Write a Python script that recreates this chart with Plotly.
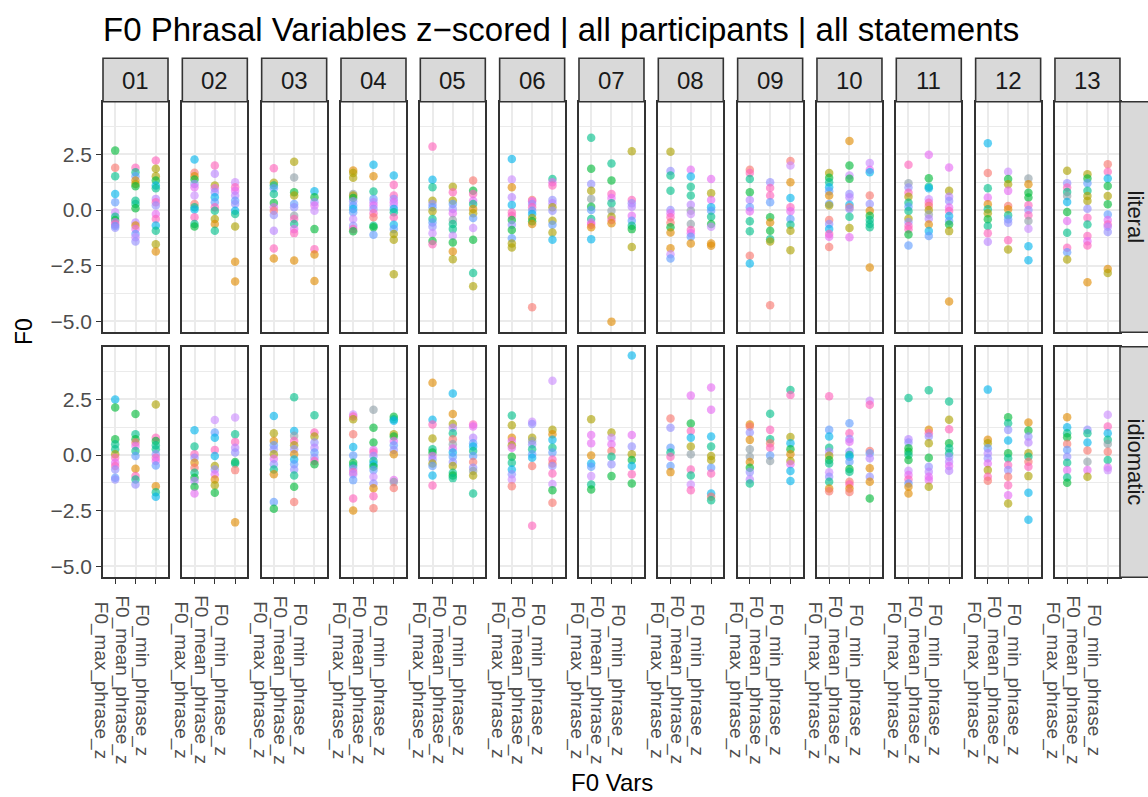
import plotly.graph_objects as go

# ---------------------------------------------------------------------------
# Data: z-scored F0 phrasal measures per participant (facet columns) and
# condition (facet rows).  Each facet holds three columns of points
# (max / mean / min), each point tagged with its statement colour group.
# ---------------------------------------------------------------------------
VARS = ["F0_max_phrase_z", "F0_mean_phrase_z", "F0_min_phrase_z"]
PARTICIPANTS = ["01", "02", "03", "04", "05", "06", "07",
                "08", "09", "10", "11", "12", "13"]
CONDITIONS = ["literal", "idiomatic"]
Y_TICKS = [-5.0, -2.5, 0.0, 2.5]
Y_TICK_TEXT = ["\u22125.0", "\u22122.5", "0.0", "2.5"]

# statement group -> colour
STATEMENT_COLOURS = {
    "r": "#F8766D", "o": "#E18A00", "y": "#ADA200", "g": "#00BA38",
    "t": "#00C08B", "c": "#00B5EE", "b": "#619CFF", "v": "#9590FF",
    "u": "#B983FF", "l": "#CB8CFF", "m": "#E76BF3", "p": "#FF62BC",
    "a": "#8FA0A8",
}

lit_01 = [
    [(2.67, "g"), (1.9, "r"), (1.52, "t"), (0.72, "c"), (0.35, "b"), (-0.1, "l"),
     (-0.3, "t"), (-0.45, "g"), (-0.55, "m"), (-0.65, "p"), (-0.72, "b"), (-0.8, "v")],
    [(1.9, "p"), (1.7, "t"), (1.52, "b"), (1.33, "o"), (1.17, "y"), (1.07, "g"),
     (0.42, "t"), (0.27, "t"), (0.08, "g"), (-0.56, "u"), (-0.7, "o"), (-0.86, "m"),
     (-1.08, "b"), (-1.23, "l"), (-1.42, "v")],
    [(2.23, "p"), (1.85, "y"), (1.52, "y"), (1.33, "g"), (1.1, "c"), (0.98, "t"),
     (0.5, "u"), (0.35, "p"), (0.2, "v"), (-0.18, "m"), (-0.4, "p"), (-0.7, "c"),
     (-0.93, "t"), (-1.54, "y"), (-1.87, "o")],
]
idi_01 = [
    [(2.5, "c"), (2.14, "g"), (0.71, "g"), (0.48, "t"), (0.26, "t"), (0.03, "y"),
     (-0.12, "p"), (-0.35, "m"), (-0.5, "p"), (-0.65, "v"), (-1.02, "b"), (-1.1, "v")],
    [(1.84, "g"), (0.93, "t"), (0.71, "g"), (0.56, "r"), (0.41, "m"), (0.18, "t"),
     (-0.05, "b"), (-0.62, "o"), (-0.95, "p"), (-1.1, "t"), (-1.33, "v")],
    [(2.27, "y"), (0.78, "p"), (0.63, "g"), (0.44, "t"), (0.26, "t"), (0.03, "v"),
     (-0.12, "p"), (-0.27, "m"), (-0.47, "b"), (-1.4, "o"), (-1.67, "t"), (-1.88, "c")],
]
lit_02 = [
    [(2.27, "c"), (1.67, "r"), (1.52, "o"), (1.37, "g"), (1.17, "v"), (1.02, "m"),
     (0.65, "l"), (0.27, "r"), (0.12, "t"), (0.02, "c"), (-0.33, "p"), (-0.63, "t"),
     (-0.74, "g")],
    [(2.0, "p"), (1.63, "u"), (1.1, "y"), (0.98, "m"), (0.8, "v"), (0.57, "c"),
     (0.35, "b"), (0.12, "p"), (-0.03, "t"), (-0.4, "y"), (-0.63, "o"), (-0.93, "t")],
    [(1.25, "l"), (1.02, "p"), (0.87, "m"), (0.65, "u"), (0.42, "b"), (0.27, "v"),
     (-0.03, "c"), (-0.18, "t"), (-0.74, "y"), (-2.33, "o"), (-3.22, "o")],
]
idi_02 = [
    [(1.11, "c"), (0.38, "t"), (0.03, "p"), (-0.12, "v"), (-0.35, "o"), (-0.57, "r"),
     (-0.8, "t"), (-1.02, "g"), (-1.17, "u"), (-1.43, "g"), (-1.73, "m")],
    [(1.57, "l"), (1.01, "b"), (0.78, "c"), (0.23, "p"), (-0.05, "c"), (-0.5, "y"),
     (-0.65, "v"), (-0.87, "m"), (-1.1, "o"), (-1.36, "y"), (-1.7, "g")],
    [(1.69, "l"), (0.93, "t"), (0.59, "p"), (0.33, "u"), (0.11, "v"), (-0.32, "g"),
     (-0.38, "t"), (-0.68, "r"), (-3.03, "o")],
]
lit_03 = [
    [(1.88, "p"), (1.22, "y"), (1.1, "t"), (0.98, "b"), (0.72, "t"), (0.32, "g"),
     (0.12, "m"), (-0.03, "r"), (-0.23, "v"), (-0.93, "u"), (-1.73, "p"), (-2.18, "o")],
    [(2.17, "y"), (1.46, "a"), (0.8, "g"), (0.65, "y"), (0.27, "b"), (0.12, "v"),
     (-0.26, "a"), (-0.4, "p"), (-0.63, "t"), (-0.86, "m"), (-1.04, "p"), (-2.27, "o")],
    [(0.84, "c"), (0.57, "g"), (0.35, "v"), (0.2, "m"), (-0.03, "l"), (-0.86, "g"),
     (-1.76, "p"), (-2.0, "o"), (-3.19, "o")],
]
idi_03 = [
    [(1.75, "c"), (0.98, "y"), (0.63, "o"), (0.44, "b"), (0.26, "v"), (0.03, "y"),
     (-0.17, "m"), (-0.42, "v"), (-0.65, "t"), (-0.87, "o"), (-2.11, "b"), (-2.42, "g")],
    [(2.6, "t"), (1.08, "c"), (0.86, "a"), (0.63, "p"), (0.44, "y"), (0.26, "v"),
     (0.03, "o"), (-0.2, "c"), (-0.42, "b"), (-0.65, "v"), (-0.92, "t"), (-1.43, "g"),
     (-2.11, "r")],
    [(1.79, "t"), (1.01, "p"), (0.83, "y"), (0.56, "v"), (0.33, "u"), (0.11, "b"),
     (-0.12, "v"), (-0.27, "p"), (-0.42, "g")],
]
lit_04 = [
    [(1.78, "o"), (1.66, "y"), (1.45, "y"), (0.72, "a"), (0.65, "y"), (0.54, "g"),
     (0.39, "v"), (0.2, "b"), (0.05, "c"), (-0.1, "b"), (-0.41, "l"), (-0.71, "v"),
     (-0.86, "p"), (-0.96, "g")],
    [(2.03, "c"), (1.52, "o"), (0.83, "t"), (0.5, "b"), (0.35, "u"), (0.2, "m"),
     (0.05, "v"), (-0.15, "p"), (-0.33, "r"), (-0.71, "t"), (-0.78, "g"), (-1.11, "b")],
    [(1.55, "c"), (1.13, "p"), (0.65, "p"), (0.5, "v"), (0.35, "m"), (0.2, "l"),
     (0.05, "c"), (-0.1, "t"), (-0.33, "p"), (-0.66, "c"), (-0.86, "b"), (-1.08, "y"),
     (-1.34, "y"), (-2.89, "y")],
]
idi_04 = [
    [(1.82, "l"), (1.73, "p"), (1.61, "y"), (0.93, "r"), (0.36, "c"), (-0.02, "b"),
     (-0.35, "g"), (-0.47, "t"), (-0.62, "v"), (-0.77, "p"), (-0.87, "u"), (-1.13, "b"),
     (-1.96, "p"), (-2.5, "o")],
    [(2.03, "a"), (1.23, "g"), (0.56, "g"), (0.23, "m"), (0.11, "p"), (-0.05, "v"),
     (-0.27, "t"), (-0.42, "c"), (-0.53, "g"), (-0.68, "b"), (-0.98, "l"), (-1.28, "v"),
     (-1.49, "o"), (-1.85, "p"), (-2.39, "r")],
    [(1.72, "g"), (1.61, "t"), (1.54, "c"), (0.93, "y"), (0.83, "g"), (0.63, "m"),
     (0.44, "b"), (0.23, "v"), (0.03, "o"), (-1.13, "m"), (-1.22, "a"), (-1.48, "r")],
]
lit_05 = [
    [(2.85, "p"), (1.36, "c"), (1.02, "t"), (0.42, "y"), (0.27, "v"), (0.12, "b"),
     (-0.06, "y"), (-0.41, "t"), (-0.56, "b"), (-0.75, "v"), (-1.05, "l"), (-1.39, "g"),
     (-1.54, "p")],
    [(1.05, "y"), (0.8, "p"), (0.42, "y"), (0.27, "b"), (0.05, "v"), (-0.15, "m"),
     (-0.45, "a"), (-0.63, "t"), (-0.86, "t"), (-1.16, "l"), (-1.46, "g"), (-1.87, "o"),
     (-2.21, "y")],
    [(1.33, "r"), (0.87, "g"), (0.72, "p"), (0.42, "m"), (0.27, "t"), (0.05, "o"),
     (-0.15, "y"), (-0.36, "b"), (-0.81, "l"), (-1.34, "g"), (-2.83, "t"), (-3.43, "y")],
]
idi_05 = [
    [(3.25, "o"), (1.58, "c"), (1.37, "p"), (0.74, "y"), (0.26, "t"), (0.11, "g"),
     (-0.05, "m"), (-0.2, "v"), (-0.38, "y"), (-0.5, "b"), (-0.92, "c"), (-1.37, "p")],
    [(2.77, "c"), (1.84, "o"), (1.39, "y"), (1.23, "u"), (0.98, "t"), (0.71, "r"),
     (0.48, "a"), (0.29, "m"), (0.11, "c"), (-0.08, "b"), (-0.32, "v"), (-0.5, "y"),
     (-0.8, "t"), (-0.92, "g"), (-1.04, "t")],
    [(1.37, "p"), (1.28, "m"), (0.78, "u"), (0.53, "b"), (0.38, "c"), (0.18, "t"),
     (-0.05, "b"), (-0.32, "r"), (-0.57, "v"), (-0.72, "a"), (-0.92, "y"), (-1.73, "t")],
]
lit_06 = [
    [(2.29, "c"), (1.37, "l"), (1.02, "o"), (0.57, "u"), (0.23, "c"), (-0.11, "p"),
     (-0.26, "p"), (-0.45, "g"), (-0.66, "v"), (-0.9, "g"), (-1.27, "b"), (-1.51, "y"),
     (-1.69, "y")],
    [(0.45, "r"), (0.39, "m"), (0.27, "v"), (0.12, "p"), (-0.03, "b"), (-0.18, "c"),
     (-0.36, "y"), (-0.51, "g"), (-0.63, "o"), (-4.37, "r")],
    [(1.39, "t"), (1.25, "m"), (1.1, "p"), (0.45, "v"), (0.3, "u"), (0.12, "y"),
     (-0.03, "v"), (-0.48, "y"), (-0.66, "b"), (-1.01, "y"), (-1.34, "c")],
]
idi_06 = [
    [(1.78, "t"), (1.34, "y"), (0.78, "o"), (0.63, "m"), (0.44, "y"), (0.33, "m"),
     (-0.08, "g"), (-0.35, "t"), (-0.65, "c"), (-0.87, "v"), (-1.1, "l"), (-1.4, "r")],
    [(1.49, "l"), (1.39, "v"), (0.78, "y"), (0.63, "a"), (0.48, "v"), (0.26, "t"),
     (0.03, "b"), (-0.12, "c"), (-0.5, "r"), (-3.18, "p")],
    [(3.34, "l"), (1.13, "y"), (0.93, "o"), (0.68, "c"), (0.33, "t"), (0.11, "b"),
     (-0.2, "p"), (-0.38, "r"), (-0.5, "v"), (-0.83, "p"), (-1.3, "l"), (-1.58, "g"),
     (-2.15, "r")],
]
lit_07 = [
    [(3.25, "t"), (1.85, "g"), (1.17, "v"), (0.87, "y"), (0.5, "a"), (0.15, "g"),
     (0.0, "b"), (-0.41, "t"), (-0.56, "m"), (-0.66, "p"), (-0.78, "o"), (-1.31, "c")],
    [(2.09, "t"), (1.33, "g"), (0.72, "p"), (0.54, "m"), (0.3, "t"), (-0.03, "a"),
     (-0.3, "y"), (-0.45, "p"), (-0.6, "o"), (-5.02, "o")],
    [(2.64, "y"), (0.45, "p"), (0.3, "v"), (0.15, "u"), (-0.26, "m"), (-0.48, "b"),
     (-0.71, "t"), (-0.86, "g"), (-1.66, "y")],
]
idi_07 = [
    [(1.61, "y"), (0.9, "m"), (0.53, "m"), (-0.02, "o"), (-0.38, "c"), (-0.53, "b"),
     (-0.95, "l"), (-1.33, "t"), (-1.55, "g")],
    [(1.01, "y"), (0.78, "l"), (0.48, "m"), (0.18, "r"), (-0.08, "t"), (-0.42, "v"),
     (-0.95, "g")],
    [(4.47, "c"), (0.9, "m"), (0.38, "v"), (0.03, "y"), (-0.23, "g"), (-0.5, "c"),
     (-0.87, "p"), (-1.28, "g")],
]
lit_08 = [
    [(2.62, "y"), (1.75, "v"), (1.55, "t"), (0.87, "t"), (0.0, "v"), (-0.15, "m"),
     (-0.33, "p"), (-0.56, "r"), (-0.78, "g"), (-1.01, "o"), (-1.72, "o"), (-1.99, "l"),
     (-2.18, "b")],
    [(1.81, "m"), (1.51, "c"), (1.05, "t"), (0.65, "t"), (0.24, "u"), (-0.03, "a"),
     (-0.18, "l"), (-0.63, "a"), (-0.9, "p"), (-1.05, "m"), (-1.2, "b"), (-1.51, "o")],
    [(1.39, "m"), (0.75, "y"), (0.45, "m"), (0.12, "c"), (-0.03, "b"), (-0.3, "t"),
     (-0.63, "g"), (-0.75, "l"), (-1.51, "o"), (-1.61, "o")],
]
idi_08 = [
    [(1.64, "r"), (1.23, "v"), (0.33, "b"), (0.11, "t"), (-0.08, "p"), (-0.5, "b"),
     (-0.77, "o")],
    [(2.67, "m"), (1.42, "g"), (1.08, "p"), (0.78, "c"), (0.38, "y"), (0.03, "a"),
     (-0.65, "p"), (-0.92, "t"), (-1.33, "l"), (-1.58, "p")],
    [(3.04, "m"), (2.03, "m"), (0.83, "c"), (0.38, "t"), (-0.05, "y"), (-0.23, "y"),
     (-0.57, "b"), (-0.83, "p"), (-1.73, "c"), (-1.88, "r"), (-2.03, "t")],
]
lit_09 = [
    [(1.81, "r"), (1.66, "p"), (1.39, "t"), (0.8, "g"), (0.45, "u"), (0.12, "b"),
     (-0.06, "m"), (-0.51, "t"), (-0.96, "t"), (-2.06, "r"), (-2.41, "c")],
    [(1.25, "v"), (0.99, "p"), (0.65, "p"), (0.35, "b"), (-0.33, "g"), (-0.56, "o"),
     (-0.93, "g"), (-1.31, "t"), (-1.42, "y"), (-4.28, "r")],
    [(2.2, "r"), (2.0, "l"), (1.25, "o"), (0.54, "c"), (0.12, "p"), (-0.06, "m"),
     (-0.41, "b"), (-0.66, "t"), (-0.93, "y"), (-1.81, "y")],
]
idi_09 = [
    [(1.37, "o"), (1.28, "r"), (1.01, "v"), (0.68, "o"), (0.26, "a"), (-0.08, "a"),
     (-0.32, "o"), (-0.57, "g"), (-0.77, "v"), (-1.1, "u"), (-1.28, "t")],
    [(1.85, "t"), (1.13, "p"), (0.71, "t"), (0.53, "r"), (0.33, "p"), (-0.02, "b"),
     (-0.27, "a")],
    [(2.92, "t"), (2.7, "p"), (0.81, "y"), (0.53, "c"), (0.26, "g"), (0.03, "o"),
     (-0.27, "y"), (-0.42, "m"), (-0.72, "c"), (-1.17, "c")],
]
lit_10 = [
    [(1.66, "y"), (1.45, "g"), (1.25, "t"), (1.02, "c"), (0.84, "b"), (0.65, "o"),
     (0.27, "b"), (0.2, "y"), (-0.45, "r"), (-0.63, "v"), (-0.86, "c"), (-1.08, "p"),
     (-1.2, "m"), (-1.66, "r")],
    [(3.1, "o"), (2.0, "g"), (1.55, "l"), (1.4, "g"), (0.72, "v"), (0.57, "u"),
     (0.24, "c"), (0.12, "r"), (0.05, "v"), (-0.3, "t"), (-0.81, "y"), (-1.23, "m")],
    [(2.11, "l"), (1.81, "m"), (1.7, "c"), (0.65, "r"), (0.27, "v"), (-0.03, "o"),
     (-0.26, "g"), (-0.45, "t"), (-0.63, "t"), (-0.78, "t"), (-2.59, "o")],
]
idi_10 = [
    [(2.64, "p"), (1.13, "b"), (0.83, "c"), (0.33, "t"), (0.15, "u"), (-0.03, "y"),
     (-0.23, "g"), (-0.38, "t"), (-0.78, "l"), (-0.98, "v"), (-1.2, "t"), (-1.51, "o"),
     (-1.63, "r")],
    [(1.43, "b"), (0.98, "p"), (0.72, "v"), (0.6, "m"), (0.15, "v"), (0.0, "t"),
     (-0.08, "c"), (-0.3, "b"), (-0.63, "g"), (-0.75, "t"), (-1.2, "r"), (-1.33, "p"),
     (-1.51, "o"), (-1.66, "r")],
    [(2.44, "l"), (2.26, "p"), (0.18, "r"), (0.08, "b"), (-0.15, "u"), (-0.6, "o"),
     (-0.98, "v"), (-1.2, "o"), (-1.96, "g")],
]
lit_11 = [
    [(2.03, "p"), (1.2, "a"), (1.01, "v"), (0.78, "p"), (0.6, "y"), (0.33, "t"),
     (0.15, "b"), (-0.05, "t"), (-0.39, "y"), (-0.54, "v"), (-0.72, "p"), (-0.87, "p"),
     (-1.1, "g"), (-1.6, "b")],
    [(2.48, "m"), (1.43, "g"), (1.05, "t"), (0.98, "c"), (0.48, "l"), (0.33, "p"),
     (0.18, "r"), (0.0, "y"), (-0.2, "a"), (-0.39, "u"), (-0.65, "o"), (-0.95, "c"),
     (-1.17, "b")],
    [(1.91, "m"), (0.86, "y"), (0.6, "u"), (0.41, "v"), (0.11, "m"), (-0.05, "p"),
     (-0.27, "c"), (-0.5, "b"), (-0.65, "g"), (-0.95, "y"), (-4.11, "o")],
]
idi_11 = [
    [(2.56, "t"), (0.71, "u"), (0.56, "v"), (0.3, "g"), (0.15, "g"), (0.0, "t"),
     (-0.23, "g"), (-0.71, "l"), (-0.9, "m"), (-1.1, "p"), (-1.28, "b"), (-1.43, "o"),
     (-1.73, "o")],
    [(2.91, "t"), (1.13, "o"), (0.98, "p"), (0.83, "v"), (0.53, "y"), (-0.12, "g"),
     (-0.53, "v"), (-0.75, "u"), (-0.98, "m"), (-1.13, "m"), (-1.43, "y")],
    [(2.41, "t"), (1.58, "y"), (1.16, "p"), (0.53, "g"), (0.3, "t"), (0.08, "t"),
     (-0.08, "v"), (-0.3, "u"), (-0.5, "m"), (-0.71, "u")],
]
lit_12 = [
    [(3.0, "c"), (1.66, "r"), (0.98, "t"), (0.56, "m"), (0.26, "o"), (0.03, "t"),
     (-0.15, "y"), (-0.42, "g"), (-0.72, "t"), (-1.05, "p"), (-1.43, "u")],
    [(1.72, "l"), (1.39, "g"), (1.16, "y"), (0.86, "m"), (0.18, "r"), (0.03, "o"),
     (-0.24, "t"), (-0.42, "b"), (-0.57, "v"), (-1.36, "p"), (-1.78, "y")],
    [(1.42, "a"), (1.16, "o"), (0.78, "g"), (0.56, "g"), (0.21, "p"), (0.0, "v"),
     (-0.24, "p"), (-0.5, "a"), (-0.84, "l"), (-1.63, "c"), (-2.26, "c")],
]
idi_12 = [
    [(2.94, "c"), (0.68, "o"), (0.53, "y"), (0.3, "b"), (0.08, "u"), (-0.15, "v"),
     (-0.38, "m"), (-0.68, "y"), (-0.98, "p"), (-1.16, "r")],
    [(1.7, "g"), (1.43, "t"), (1.13, "v"), (0.65, "c"), (0.08, "g"), (-0.15, "t"),
     (-0.45, "p"), (-0.68, "v"), (-0.98, "r"), (-1.36, "p"), (-1.81, "m"), (-2.18, "y")],
    [(1.46, "o"), (1.1, "g"), (0.83, "v"), (0.56, "u"), (0.08, "y"), (-0.08, "t"),
     (-0.3, "r"), (-0.53, "p"), (-0.95, "y"), (-1.7, "c"), (-2.91, "c")],
]
lit_13 = [
    [(1.76, "y"), (1.2, "v"), (1.01, "p"), (0.81, "t"), (0.63, "a"), (0.36, "c"),
     (-0.09, "g"), (-0.5, "m"), (-1.02, "t"), (-1.7, "p"), (-1.9, "b"), (-2.23, "y")],
    [(1.61, "y"), (1.42, "g"), (1.2, "b"), (0.86, "t"), (0.63, "y"), (0.41, "y"),
     (0.06, "v"), (-0.35, "p"), (-0.65, "t"), (-1.17, "p"), (-1.4, "m"), (-1.6, "p"),
     (-3.25, "o")],
    [(2.06, "r"), (1.72, "p"), (1.42, "c"), (1.08, "g"), (0.63, "y"), (0.26, "g"),
     (-0.2, "b"), (-0.45, "m"), (-0.65, "p"), (-0.75, "u"), (-0.99, "v"), (-2.65, "o"),
     (-2.83, "y")],
]
idi_13 = [
    [(1.7, "o"), (1.25, "c"), (0.98, "t"), (0.8, "g"), (0.5, "r"), (0.23, "b"),
     (-0.08, "v"), (-0.35, "t"), (-0.68, "m"), (-1.01, "t"), (-1.25, "g")],
    [(1.13, "v"), (0.98, "t"), (0.56, "c"), (0.2, "r"), (-0.3, "a"), (-0.68, "m"),
     (-0.98, "y")],
    [(1.81, "l"), (1.28, "p"), (0.98, "c"), (0.68, "t"), (0.5, "a"), (0.15, "r"),
     (-0.23, "t"), (-0.56, "m"), (-0.68, "l")],
]

LITERAL = [lit_01, lit_02, lit_03, lit_04, lit_05, lit_06, lit_07,
           lit_08, lit_09, lit_10, lit_11, lit_12, lit_13]
IDIOMATIC = [idi_01, idi_02, idi_03, idi_04, idi_05, idi_06, idi_07,
             idi_08, idi_09, idi_10, idi_11, idi_12, idi_13]
ROWS = [LITERAL, IDIOMATIC]

# ---------------------------------------------------------------------------
# Layout (pixel geometry of the facet grid)
# ---------------------------------------------------------------------------
W, H = 1148, 797
PANEL_LEFT0 = 103.0
PANEL_STEP = 79.33
PANEL_W = 65.0
ROW_TOP = [101.7, 346.7]
ROW_H = 230.6
STRIP_TOP = 58.3
RIGHT_STRIP_X = (1120.0, 1166.0)
Y_RANGE = [-5.50, 4.87]

FONT = "Liberation Sans, Arial, sans-serif"
BORDER = "#333333"
GRID = "#EBEBEB"
STRIP_FILL = "#D9D9D9"


def fx(px):
    return px / W


def fy(py):
    return 1.0 - py / H


fig = go.Figure()
layout = dict(
    width=W, height=H,
    margin=dict(l=0, r=0, t=0, b=0),
    paper_bgcolor="white", plot_bgcolor="white",
    showlegend=False,
    font=dict(family=FONT, color="#4D4D4D"),
)
shapes = []
annotations = []

for r, cond_rows in enumerate(ROWS):
    top = ROW_TOP[r]
    for c, panel in enumerate(cond_rows):
        k = r * len(PARTICIPANTS) + c + 1
        xa = "x" if k == 1 else f"x{k}"
        ya = "y" if k == 1 else f"y{k}"
        left = PANEL_LEFT0 + c * PANEL_STEP

        xs, ys, cols = [], [], []
        for j, column in enumerate(panel):
            for val, grp in column:
                xs.append(VARS[j])
                ys.append(val)
                cols.append(STATEMENT_COLOURS[grp])
        fig.add_trace(go.Scatter(
            x=xs, y=ys, mode="markers", xaxis=xa, yaxis=ya,
            marker=dict(size=8.5, color=cols, opacity=0.62, line=dict(width=0)),
            hoverinfo="skip", showlegend=False,
        ))

        layout["xaxis" if k == 1 else f"xaxis{k}"] = dict(
            domain=[fx(left), fx(left + PANEL_W)],
            anchor=ya,
            type="category", categoryorder="array", categoryarray=VARS,
            range=[-0.6, 2.6],
            showgrid=True, gridcolor=GRID, gridwidth=1.8,
            zeroline=False,
            showline=True, mirror=True, linecolor=BORDER, linewidth=1.6,
            showticklabels=False,
            ticks="outside" if r == 1 else "", ticklen=5,
            tickcolor=BORDER, tickwidth=1.3,
        )
        layout["yaxis" if k == 1 else f"yaxis{k}"] = dict(
            domain=[fy(top + ROW_H), fy(top)],
            anchor=xa,
            range=Y_RANGE,
            tickmode="array", tickvals=Y_TICKS, ticktext=Y_TICK_TEXT,
            showgrid=True, gridcolor=GRID, gridwidth=1.8,
            minor=dict(tickvals=[-3.75, -1.25, 1.25, 3.75], showgrid=True,
                       gridcolor=GRID, gridwidth=1.0, ticks=""),
            zeroline=False,
            showline=True, mirror=True, linecolor=BORDER, linewidth=1.6,
            showticklabels=(c == 0),
            ticks="outside" if c == 0 else "", ticklen=5,
            tickcolor=BORDER, tickwidth=1.3,
            tickfont=dict(size=21, color="#4D4D4D", family=FONT),
        )

        # rotated variable labels under the bottom row
        if r == 1:
            for j, name in enumerate(VARS):
                annotations.append(dict(
                    text=name, xref=xa, yref="paper", x=j, y=fy(680),
                    xanchor="right", yanchor="middle", textangle=90,
                    xshift=-1, showarrow=False,
                    font=dict(size=19, color="#4D4D4D", family=FONT),
                ))

# facet strips along the top
for c, pid in enumerate(PARTICIPANTS):
    left = PANEL_LEFT0 + c * PANEL_STEP
    shapes.append(dict(
        type="rect", xref="paper", yref="paper", layer="above",
        x0=fx(left), x1=fx(left + PANEL_W), y0=fy(ROW_TOP[0]), y1=fy(STRIP_TOP),
        fillcolor=STRIP_FILL, line=dict(color=BORDER, width=1.6),
    ))
    annotations.append(dict(
        text=pid, xref="paper", yref="paper",
        x=fx(left + PANEL_W / 2), y=fy((STRIP_TOP + ROW_TOP[0]) / 2),
        xanchor="center", yanchor="middle", showarrow=False,
        font=dict(size=24, color="#1A1A1A", family=FONT),
    ))

# facet strips on the right
for r, cond in enumerate(CONDITIONS):
    top = ROW_TOP[r]
    shapes.append(dict(
        type="rect", xref="paper", yref="paper", layer="above",
        x0=fx(RIGHT_STRIP_X[0]), x1=fx(RIGHT_STRIP_X[1]),
        y0=fy(top + ROW_H), y1=fy(top),
        fillcolor=STRIP_FILL, line=dict(color=BORDER, width=1.6),
    ))
    annotations.append(dict(
        text=cond, xref="paper", yref="paper",
        x=fx(1135.5), y=fy(top + ROW_H / 2),
        xanchor="center", yanchor="middle", textangle=90, showarrow=False,
        font=dict(size=22, color="#1A1A1A", family=FONT),
    ))

# titles
annotations.append(dict(
    text="F0 Phrasal Variables z\u2212scored | all participants | all statements",
    xref="paper", yref="paper", x=fx(101), y=fy(29),
    xanchor="left", yanchor="middle", showarrow=False,
    font=dict(size=33, color="black", family=FONT),
))
annotations.append(dict(
    text="F0 Vars", xref="paper", yref="paper", x=fx(611.5), y=fy(782),
    xanchor="center", yanchor="middle", showarrow=False,
    font=dict(size=24, color="black", family=FONT),
))
annotations.append(dict(
    text="F0", xref="paper", yref="paper", x=fx(24), y=fy(332),
    xanchor="center", yanchor="middle", textangle=-90, showarrow=False,
    font=dict(size=23, color="black", family=FONT),
))

layout["shapes"] = shapes
layout["annotations"] = annotations
fig.update_layout(**layout)
fig.write_html("out.html")
